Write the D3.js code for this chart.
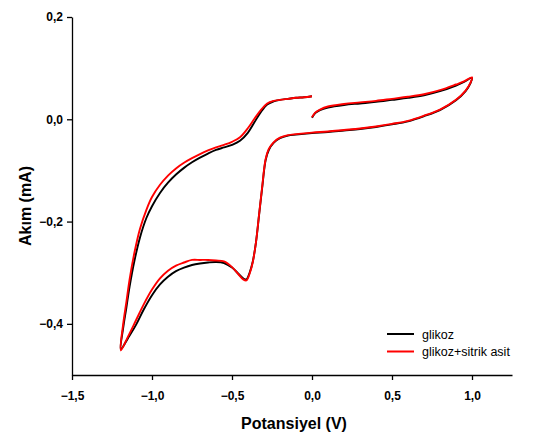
<!DOCTYPE html>
<html>
<head>
<meta charset="utf-8">
<script src="https://cdn.jsdelivr.net/npm/d3@7"></script>
<style>
  html, body { margin: 0; padding: 0; background: #fff; }
  svg { display: block; font-family: "Liberation Sans", Arial, sans-serif; }
</style>
</head>
<body>
<svg id="chart" width="535" height="434"></svg>
<script>
// Cyclic voltammogram: scan 0 V -> +1.0 V -> -1.2 V -> 0 V
const potential = [
  0.0, 0.02, 0.05, 0.1, 0.2, 0.3, 0.4, 0.5, 0.6, 0.7, 0.8, 0.9, 0.95, 1.0,
  0.99, 0.96, 0.9, 0.8, 0.7, 0.6, 0.5, 0.4, 0.3, 0.2, 0.1, 0.0, -0.1, -0.15, -0.2,
  -0.24, -0.27, -0.29, -0.31, -0.33, -0.35, -0.37, -0.39, -0.41, -0.43, -0.46, -0.5,
  -0.55, -0.6, -0.65, -0.7, -0.75, -0.8, -0.85, -0.9, -0.95, -1.0, -1.05, -1.1, -1.15, -1.195,
  -1.18, -1.16, -1.14, -1.11, -1.075, -1.035, -1.0, -0.95, -0.9, -0.85, -0.8, -0.75,
  -0.7, -0.65, -0.6, -0.55, -0.5, -0.45, -0.4, -0.36, -0.32, -0.28, -0.24, -0.2, -0.15,
  -0.1, -0.05, 0.0
];

const glikoz = [
  0.003, 0.012, 0.018, 0.023, 0.028, 0.031, 0.034, 0.038, 0.042, 0.047, 0.055, 0.066, 0.073, 0.081,
  0.070, 0.055, 0.037, 0.018, 0.006, -0.004, -0.010, -0.015, -0.019, -0.022, -0.025, -0.027, -0.030, -0.032, -0.037,
  -0.046, -0.060, -0.080, -0.130, -0.185, -0.240, -0.278, -0.300, -0.313, -0.311, -0.302, -0.290,
  -0.281, -0.279, -0.280, -0.282, -0.285, -0.290, -0.297, -0.308, -0.323, -0.344, -0.371, -0.402, -0.428, -0.450,
  -0.408, -0.368, -0.327, -0.277, -0.231, -0.193, -0.170, -0.144, -0.124, -0.108, -0.095, -0.084,
  -0.075, -0.067, -0.060, -0.055, -0.050, -0.042, -0.026, -0.006, 0.014, 0.029, 0.035, 0.038, 0.040,
  0.042, 0.043, 0.045
];

const glikozSitrikAsit = [
  0.004, 0.013, 0.019, 0.025, 0.030, 0.033, 0.036, 0.040, 0.044, 0.049, 0.057, 0.068, 0.074, 0.082,
  0.071, 0.056, 0.038, 0.019, 0.007, -0.003, -0.009, -0.014, -0.018, -0.021, -0.024, -0.026, -0.029, -0.031, -0.036,
  -0.045, -0.058, -0.078, -0.128, -0.184, -0.240, -0.279, -0.302, -0.315, -0.313, -0.303, -0.289,
  -0.278, -0.276, -0.275, -0.275, -0.275, -0.280, -0.286, -0.296, -0.311, -0.333, -0.361, -0.393, -0.425, -0.452,
  -0.400, -0.357, -0.313, -0.261, -0.214, -0.177, -0.152, -0.128, -0.110, -0.096, -0.085, -0.076,
  -0.068, -0.061, -0.055, -0.050, -0.044, -0.035, -0.017, 0.001, 0.018, 0.031, 0.036, 0.038, 0.040,
  0.042, 0.043, 0.045
];

const seriesNames = ["glikoz", "glikoz+sitrik asit"];
const seriesColors = ["#000000", "#ff0000"];
const xTicks = [-1.5, -1.0, -0.5, 0.0, 0.5, 1.0];
const yTicks = [-0.4, -0.2, 0.0, 0.2];

const svg = d3.select("#chart");
const plot = { left: 72, right: 512, top: 17, bottom: 375 };

const x = d3.scaleLinear().domain([-1.5, 1.25]).range([plot.left, plot.right]);
const y = d3.scaleLinear().domain([-0.5, 0.2]).range([plot.bottom, plot.top]);

const fmt = d3.formatLocale({ decimal: ",", thousands: ".", grouping: [3], currency: ["", ""] }).format(".1f");

// Axes
const xAxis = svg.append("g")
  .attr("transform", `translate(0,${plot.bottom})`)
  .call(d3.axisBottom(x).tickValues(xTicks).tickFormat(fmt).tickSize(5).tickPadding(11).tickSizeOuter(0));
const yAxis = svg.append("g")
  .attr("transform", `translate(${plot.left},0)`)
  .call(d3.axisLeft(y).tickValues(yTicks).tickFormat(fmt).tickSize(5).tickPadding(4).tickSizeOuter(0));

[xAxis, yAxis].forEach(g => {
  g.select(".domain").attr("stroke", "#000").attr("stroke-width", 1.3);
  g.selectAll(".tick line").attr("stroke", "#000").attr("stroke-width", 1.3);
  g.selectAll(".tick text")
    .attr("fill", "#000")
    .style("font-family", "'Liberation Sans', Arial, sans-serif")
    .style("font-size", "12px")
    .style("font-weight", "bold");
});

// Axis titles
svg.append("text")
  .attr("x", 294).attr("y", 429)
  .attr("text-anchor", "middle")
  .style("font-size", "16px").style("font-weight", "bold")
  .text("Potansiyel (V)");
svg.append("text")
  .attr("transform", "translate(31,206) rotate(-90)")
  .attr("text-anchor", "middle")
  .style("font-size", "16px").style("font-weight", "bold")
  .text("Akım (mA)");

// Curves
const line = d3.line()
  .x(d => x(d[0]))
  .y(d => y(d[1]))
  .curve(d3.curveCatmullRom.alpha(0.5));

[glikoz, glikozSitrikAsit].forEach((vals, i) => {
  const pts = potential.map((p, k) => [p, vals[k]]);
  svg.append("path")
    .datum(pts)
    .attr("fill", "none")
    .attr("stroke", seriesColors[i])
    .attr("stroke-width", 1.9)
    .attr("stroke-linejoin", "round")
    .attr("d", line);
});

// Legend
const legend = svg.append("g").attr("transform", "translate(387,334)");
seriesNames.forEach((name, i) => {
  const row = legend.append("g").attr("transform", `translate(0,${i * 17.5})`);
  row.append("line")
    .attr("x1", 0).attr("x2", 27).attr("y1", 0).attr("y2", 0)
    .attr("stroke", seriesColors[i]).attr("stroke-width", 2);
  row.append("text")
    .attr("x", 35).attr("y", 4.5)
    .style("font-size", "12.5px")
    .attr("fill", "#000")
    .text(name);
});
</script>
</body>
</html>
